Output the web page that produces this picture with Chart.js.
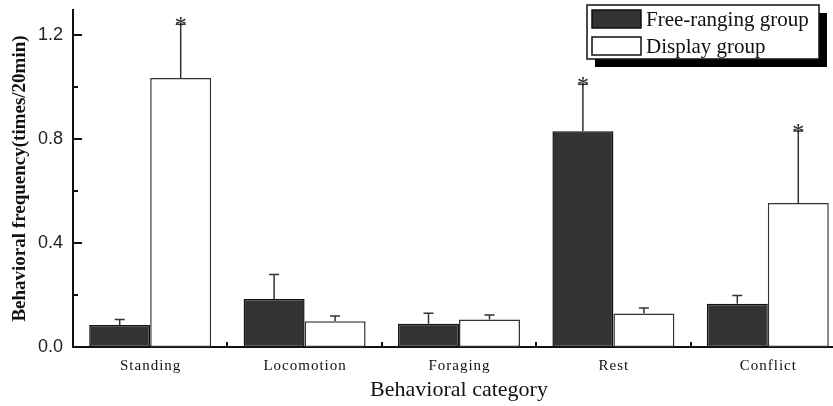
<!DOCTYPE html>
<html>
<head>
<meta charset="utf-8">
<script src="https://cdn.jsdelivr.net/npm/chart.js@4/dist/chart.umd.min.js"></script>
<style>
  html, body { margin: 0; padding: 0; background: #fff; overflow: hidden; }
  #wrap { width: 833px; height: 406px; overflow: hidden; position: relative; }
  canvas { display: block; }
</style>
</head>
<body>
<div id="wrap"><canvas id="chart" width="850" height="406"></canvas></div>
<script>
// Behaviour categories and group means (times / 20 min) with upper error bars
const categories = ['Standing', 'Locomotion', 'Foraging', 'Rest', 'Conflict'];
const freeRanging = [0.085, 0.184, 0.089, 0.829, 0.166];
const freeRangingErr = [0.021, 0.095, 0.041, 0.181, 0.032];
const displayGroup = [1.034, 0.099, 0.106, 0.129, 0.553];
const displayGroupErr = [0.206, 0.020, 0.017, 0.021, 0.277];
// significance markers (*) per bar
const freeRangingStar = [false, false, false, true, false];
const displayGroupStar = [true, false, false, false, true];
// y axis ticks
const yMajorTicks = [0, 0.4, 0.8, 1.2];
const yMinorTicks = [0.2, 0.6, 1.0];
const seriesNames = ['Free-ranging group', 'Display group'];

const SERIF = '"Liberation Serif", "Times New Roman", serif';
const SANS = '"Liberation Sans", Arial, sans-serif';

const errs = [freeRangingErr, displayGroupErr];
const stars = [freeRangingStar, displayGroupStar];

// error bars + asterisks above bars
const errorBarPlugin = {
  id: 'errorBars',
  afterDatasetsDraw(chart) {
    const ctx = chart.ctx;
    const y = chart.scales.y;
    chart.data.datasets.forEach((ds, di) => {
      const meta = chart.getDatasetMeta(di);
      meta.data.forEach((bar, i) => {
        const top = y.getPixelForValue(ds.data[i] + errs[di][i]);
        ctx.save();
        ctx.strokeStyle = '#333';
        ctx.lineWidth = 1.5;
        ctx.beginPath();
        ctx.moveTo(bar.x, bar.y);
        ctx.lineTo(bar.x, top);
        ctx.moveTo(bar.x - 5, top);
        ctx.lineTo(bar.x + 5, top);
        ctx.stroke();
        if (stars[di][i]) {
          ctx.fillStyle = '#222';
          ctx.font = '24px ' + SERIF;
          ctx.textAlign = 'center';
          ctx.textBaseline = 'alphabetic';
          ctx.fillText('*', bar.x, top + 8);
        }
        ctx.restore();
      });
    });
  }
};

// inward tick marks on both axes and letter-spaced category labels
const axisDecorPlugin = {
  id: 'axisDecor',
  afterDraw(chart) {
    const ctx = chart.ctx;
    const xs = chart.scales.x, ys = chart.scales.y;
    const area = chart.chartArea;
    ctx.save();
    ctx.strokeStyle = '#111';
    ctx.lineWidth = 2;
    ctx.beginPath();
    yMajorTicks.forEach(v => {
      const py = Math.round(ys.getPixelForValue(v));
      ctx.moveTo(area.left, py);
      ctx.lineTo(area.left + 9, py);
    });
    yMinorTicks.forEach(v => {
      const py = Math.round(ys.getPixelForValue(v));
      ctx.moveTo(area.left, py);
      ctx.lineTo(area.left + 5, py);
    });
    for (let i = 1; i < categories.length; i++) {
      const px = Math.round((xs.getPixelForTick(i - 1) + xs.getPixelForTick(i)) / 2);
      ctx.moveTo(px, area.bottom);
      ctx.lineTo(px, area.bottom - 5);
    }
    ctx.stroke();

    ctx.fillStyle = '#111';
    ctx.font = '15px ' + SERIF;
    ctx.textAlign = 'center';
    ctx.textBaseline = 'middle';
    ctx.letterSpacing = '1px';
    categories.forEach((c, i) => {
      ctx.fillText(c, xs.getPixelForTick(i) + 0.5, area.bottom + 19);
    });
    ctx.restore();
  }
};

// boxed legend with drop shadow, top right
const legendBoxPlugin = {
  id: 'legendBox',
  afterDraw(chart) {
    const ctx = chart.ctx;
    const bx = 587, by = 5, bw = 232, bh = 54;
    ctx.save();
    ctx.fillStyle = '#000';
    ctx.fillRect(bx + 8, by + 8, bw, bh);
    ctx.fillStyle = '#fff';
    ctx.fillRect(bx, by, bw, bh);
    ctx.strokeStyle = '#111';
    ctx.lineWidth = 1.5;
    ctx.strokeRect(bx, by, bw, bh);
    const fills = ['#333333', '#ffffff'];
    ctx.font = '21px ' + SERIF;
    ctx.textBaseline = 'middle';
    ctx.textAlign = 'left';
    seriesNames.forEach((name, i) => {
      const cy = by + 14 + i * 27;
      ctx.fillStyle = fills[i];
      ctx.fillRect(592, cy - 9, 49, 18);
      ctx.strokeStyle = '#111';
      ctx.lineWidth = 1.5;
      ctx.strokeRect(592, cy - 9, 49, 18);
      ctx.fillStyle = '#111';
      ctx.fillText(name, 646, cy + 1);
    });
    ctx.restore();
  }
};

new Chart(document.getElementById('chart'), {
  type: 'bar',
  data: {
    labels: categories,
    datasets: [
      {
        label: seriesNames[0],
        data: freeRanging,
        backgroundColor: '#333333',
        borderColor: '#111111',
        borderWidth: 1.5,
        borderSkipped: false
      },
      {
        label: seriesNames[1],
        data: displayGroup,
        backgroundColor: '#ffffff',
        borderColor: '#333333',
        borderWidth: 1.5,
        borderSkipped: false
      }
    ]
  },
  options: {
    responsive: false,
    animation: false,
    layout: { padding: { top: 10, right: 5, left: 0, bottom: 0 } },
    datasets: { bar: { categoryPercentage: 0.79, barPercentage: 1.0 } },
    plugins: { legend: { display: false }, tooltip: { enabled: false } },
    scales: {
      x: {
        grid: { display: false, drawTicks: false },
        border: { display: true, color: '#111', width: 2 },
        ticks: { display: false },
        title: {
          display: true,
          text: 'Behavioral category',
          font: { family: SERIF, size: 22 },
          color: '#111',
          padding: { top: 0, bottom: 3 }
        },
        afterFit(scale) { scale.height = 59; }
      },
      y: {
        min: 0,
        max: 1.295,
        grid: { display: false, drawTicks: false },
        border: { display: true, color: '#111', width: 2 },
        afterBuildTicks(scale) {
          scale.ticks = yMajorTicks.concat(yMinorTicks).sort((a, b) => a - b).map(v => ({ value: v }));
        },
        ticks: {
          padding: 10,
          color: '#222',
          font: { family: SANS, size: 18 },
          callback(v) {
            return yMajorTicks.some(t => Math.abs(t - v) < 1e-6) ? v.toFixed(1) : '';
          }
        },
        title: {
          display: true,
          text: 'Behavioral frequency(times/20min)',
          font: { family: SERIF, size: 19, weight: 'bold' },
          color: '#111',
          padding: { top: 9, bottom: 0 }
        },
        afterFit(scale) {
          scale.width = 73;
          scale.paddingTop = 0;
          scale.paddingBottom = 0;
        }
      }
    }
  },
  plugins: [errorBarPlugin, axisDecorPlugin, legendBoxPlugin]
});
</script>
</body>
</html>
